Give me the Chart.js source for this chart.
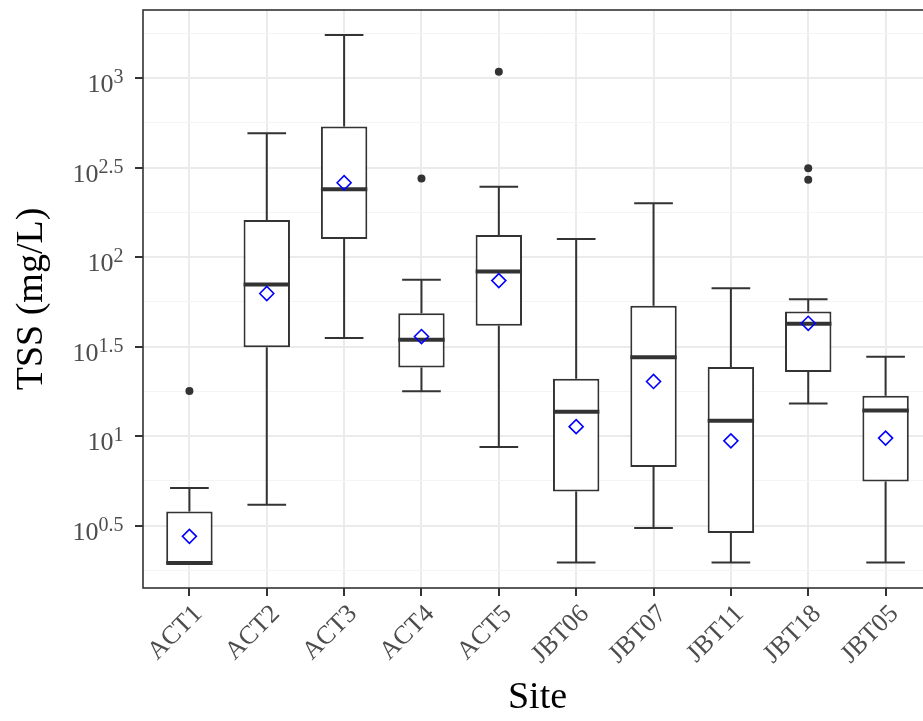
<!DOCTYPE html>
<html>
<head>
<meta charset="utf-8">
<script src="https://cdn.jsdelivr.net/npm/chart.js@4"></script>
<style>
html,body{margin:0;padding:0;overflow:hidden;background:#ffffff}
canvas{display:block}
</style>
</head>
<body>
<canvas id="c" width="933" height="721"></canvas>
<script>
// ---- data ----
const sites = ['ACT1','ACT2','ACT3','ACT4','ACT5','JBT06','JBT07','JBT11','JBT18','JBT05'];
const whiskerLow  = [1.96, 4.14, 35.3, 17.8, 8.69, 1.97, 3.07, 1.97, 15.2, 1.97];
const q1          = [1.96, 31.4, 126, 24.2, 41.3, 4.91, 6.72, 2.88, 22.8, 5.59];
const medians     = [1.96, 70.2, 239, 34.5, 83.0, 13.7, 27.6, 12.2, 42.4, 13.9];
const q3          = [3.80, 161, 535, 48.6, 133, 20.9, 53.4, 24.3, 49.6, 16.8];
const whiskerHigh = [5.13, 491, 1738, 74.6, 247, 126, 200, 66.9, 58.2, 27.8];
const means       = [2.76, 62.6, 260, 36.0, 73.9, 11.3, 20.2, 9.42, 42.7, 9.76];
const outlierSites  = ['ACT1','ACT4','ACT5','JBT18','JBT18'];
const outlierValues = [17.9, 275, 1084, 313, 270];
const yTickExponents = [0.5, 1, 1.5, 2, 2.5, 3];
const yTickLabels    = ['0.5', '1', '1.5', '2', '2.5', '3'];
const yMinorExponents = [0.25, 0.75, 1.25, 1.75, 2.25, 2.75, 3.25];
const xTitle = 'Site';
const yTitle = 'TSS (mg/L)';

// ---- helpers ----
const FONT = 'Liberation Serif';
const isMajorExp = (v) => {
  const e = Math.log10(v) * 2;
  return Math.abs(e - Math.round(e)) < 1e-6;
};
const gridExps = yMinorExponents.concat(yTickExponents).sort((a, b) => a - b);
const noPad = (s) => { s.paddingLeft = 0; s.paddingRight = 0; s.paddingTop = 0; s.paddingBottom = 0; };

const whiskerPlugin = {
  id: 'whiskers',
  beforeDatasetsDraw(chart) {
    const {ctx, scales: {x, y}} = chart;
    const unit = x.getPixelForValue(1) - x.getPixelForValue(0);
    const half = unit * 0.25;
    ctx.save();
    ctx.strokeStyle = '#333333';
    ctx.lineWidth = 2;
    sites.forEach((s, i) => {
      const px = x.getPixelForValue(i);
      const yl = y.getPixelForValue(whiskerLow[i]);
      const y1 = y.getPixelForValue(q1[i]);
      const y3 = y.getPixelForValue(q3[i]);
      const yh = y.getPixelForValue(whiskerHigh[i]);
      ctx.beginPath();
      ctx.moveTo(px, yl); ctx.lineTo(px, y1);
      ctx.moveTo(px, y3); ctx.lineTo(px, yh);
      ctx.moveTo(px - half, yl); ctx.lineTo(px + half, yl);
      ctx.moveTo(px - half, yh); ctx.lineTo(px + half, yh);
      ctx.stroke();
    });
    ctx.restore();
  }
};

const borderPlugin = {
  id: 'panelBorder',
  afterDatasetsDraw(chart) {
    const {ctx, chartArea: a} = chart;
    ctx.save();
    ctx.strokeStyle = '#333333';
    ctx.lineWidth = 1.6;
    ctx.strokeRect(a.left, a.top, a.right - a.left, a.bottom - a.top);
    ctx.restore();
  }
};

const yLabelPlugin = {
  id: 'yPowerLabels',
  afterDraw(chart) {
    const {ctx, scales: {y}} = chart;
    const right = y.right - 19.5;
    ctx.save();
    ctx.fillStyle = '#4D4D4D';
    ctx.textAlign = 'right';
    ctx.textBaseline = 'alphabetic';
    yTickExponents.forEach((e, i) => {
      const py = y.getPixelForValue(Math.pow(10, e));
      ctx.font = '20px "' + FONT + '"';
      const sw = ctx.measureText(yTickLabels[i]).width;
      ctx.fillText(yTickLabels[i], right, py + 5);
      ctx.font = '26px "' + FONT + '"';
      ctx.fillText('10', right - sw, py + 14);
    });
    ctx.restore();
  }
};

new Chart(document.getElementById('c'), {
  type: 'bar',
  data: {
    datasets: [
      {
        type: 'scatter', label: 'Mean', order: 0,
        data: sites.map((s, i) => ({x: i, y: means[i]})),
        pointStyle: 'rectRot', radius: 7, borderWidth: 1.6,
        borderColor: '#0000FF', backgroundColor: 'rgba(0,0,0,0)'
      },
      {
        type: 'scatter', label: 'Median', order: 1,
        data: sites.map((s, i) => ({x: i, y: medians[i]})),
        pointStyle: 'line', radius: 23.2, borderWidth: 4,
        borderColor: '#333333'
      },
      {
        type: 'scatter', label: 'Outliers', order: 2,
        data: outlierSites.map((s, k) => ({x: sites.indexOf(s), y: outlierValues[k]})),
        pointStyle: 'circle', radius: 4, borderWidth: 0,
        backgroundColor: '#333333'
      },
      {
        type: 'bar', label: 'IQR', order: 3,
        data: sites.map((s, i) => ({x: i, y: [q1[i], q3[i]]})),
        backgroundColor: '#FFFFFF', borderColor: '#333333', borderWidth: 2,
        borderSkipped: false, barPercentage: 0.6, categoryPercentage: 1
      }
    ]
  },
  options: {
    responsive: false,
    animation: false,
    devicePixelRatio: 1,
    layout: {autoPadding: false, padding: {top: 10, right: 1, left: 0, bottom: 0}},
    plugins: {legend: {display: false}, tooltip: {enabled: false}},
    scales: {
      x: {
        type: 'linear', min: -0.6, max: 9.6, bounds: 'data', offset: false,
        afterBuildTicks: (s) => { s.ticks = sites.map((_, i) => ({value: i})); },
        afterFit: (s) => { s.height = 133; noPad(s); },
        grid: {color: '#EBEBEB', lineWidth: 2, offset: false, drawTicks: true,
               tickLength: 8, tickColor: '#333333', tickWidth: 2},
        border: {display: false},
        ticks: {autoSkip: false, minRotation: 45, maxRotation: 45, padding: 3, labelOffset: 9,
                color: '#4D4D4D', font: {family: FONT, size: 26},
                callback: (v) => (sites[v] !== undefined ? sites[v] : '')},
        title: {display: true, text: xTitle, color: '#000000',
                font: {family: FONT, size: 38}, padding: {top: 0, bottom: 0}}
      },
      y: {
        type: 'logarithmic', min: Math.pow(10, 0.1523), max: Math.pow(10, 3.3795),
        afterBuildTicks: (s) => { s.ticks = gridExps.map((e) => ({value: Math.pow(10, e)})); },
        afterFit: (s) => { s.width = 143; noPad(s); },
        grid: {
          color: (c) => (c.tick && isMajorExp(c.tick.value) ? '#EBEBEB' : '#F4F4F4'),
          lineWidth: (c) => (c.tick && isMajorExp(c.tick.value) ? 2 : 1),
          drawTicks: true, tickLength: 8, tickWidth: 2,
          tickColor: (c) => (c.tick && isMajorExp(c.tick.value) ? '#333333' : 'rgba(0,0,0,0)')
        },
        border: {display: false},
        ticks: {display: false},
        title: {display: true, text: yTitle, color: '#000000',
                font: {family: FONT, size: 38}, padding: {top: 9, bottom: 0}}
      }
    }
  },
  plugins: [whiskerPlugin, borderPlugin, yLabelPlugin]
});
</script>
</body>
</html>
